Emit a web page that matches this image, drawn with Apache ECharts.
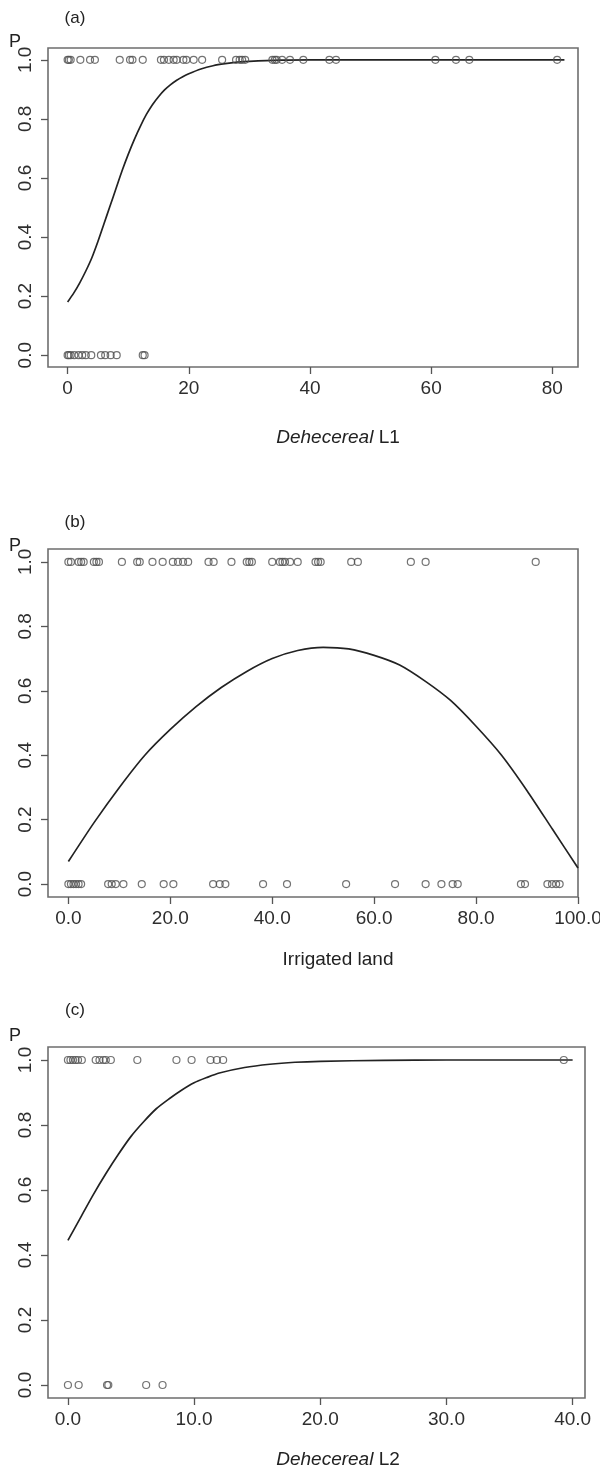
<!DOCTYPE html>
<html>
<head>
<meta charset="utf-8">
<script src="https://cdn.jsdelivr.net/npm/echarts@6/dist/echarts.min.js"></script>
<style>
  html, body { margin: 0; padding: 0; background: #fff; }
  #chart { width: 600px; height: 1473px; }
</style>
</head>
<body>
<div id="chart"></div>
<script>
// panel (a): Dehecereal L1
const aOnes = [0, 0.2, 0.5, 2.1, 3.7, 4.5, 8.6, 10.3, 10.7, 12.4, 15.4, 15.9, 16.7, 17.5, 18.0, 19.1, 19.6, 20.8, 22.2,
  25.5, 27.8, 28.4, 28.8, 29.3, 33.8, 34.2, 34.5, 35.4, 36.7, 38.9, 43.2, 44.3, 60.7, 64.1, 66.3, 80.8];
const aZeros = [0, 0.2, 0.5, 1.1, 1.8, 2.4, 3.0, 3.9, 5.5, 6.2, 7.1, 8.1, 12.4, 12.7];
const aCurveX = [0, 1, 2, 3, 4, 5, 6, 7, 8, 9, 10, 11, 12, 13, 14, 15, 16, 17, 18, 19, 20, 22, 24, 26, 28, 30, 35, 40, 50, 82];
const aCurveP = [0.18, 0.21, 0.245, 0.285, 0.33, 0.385, 0.445, 0.505, 0.565, 0.625, 0.68, 0.73, 0.775, 0.815, 0.848, 0.875, 0.898, 0.916, 0.931, 0.943, 0.953,
  0.969, 0.98, 0.987, 0.992, 0.995, 0.999, 1, 1, 1];

// panel (b): Irrigated land
const bOnes = [0, 0.5, 2, 2.5, 3, 5, 5.5, 6, 10.5, 13.5, 14, 16.5, 18.5, 20.5, 21.5, 22.5, 23.5, 27.5, 28.5, 32,
  35, 35.5, 36, 40, 41.5, 42, 42.5, 43.5, 45, 48.5, 49, 49.5, 55.5, 56.8, 67.2, 70.1, 91.7];
const bZeros = [0, 0.5, 1, 1.5, 2, 2.5, 7.8, 8.5, 9.3, 10.8, 14.4, 18.7, 20.6, 28.4, 29.7, 30.8, 38.2, 42.9, 54.5,
  64.1, 70.1, 73.2, 75.4, 76.4, 88.8, 89.6, 94, 94.9, 95.7, 96.4];
const bCurveX = [0, 5, 10, 15, 20, 25, 30, 35, 40, 45, 50, 55, 60, 65, 70, 75, 80, 85, 90, 95, 100];
const bCurveP = [0.07, 0.19, 0.3, 0.4, 0.48, 0.55, 0.61, 0.66, 0.7, 0.725, 0.735, 0.73, 0.71, 0.68, 0.63, 0.57, 0.49, 0.4, 0.29, 0.17, 0.05];

// panel (c): Dehecereal L2
const cOnes = [0, 0.2, 0.4, 0.6, 0.8, 1.1, 2.2, 2.5, 2.8, 3.0, 3.4, 5.5, 8.6, 9.8, 11.3, 11.8, 12.3, 39.3];
const cZeros = [0, 0.85, 3.1, 3.2, 6.2, 7.5];
const cCurveX = [0, 1, 2, 3, 4, 5, 6, 7, 8, 9, 10, 11, 12, 14, 16, 18, 20, 25, 30, 40];
const cCurveP = [0.445, 0.515, 0.585, 0.65, 0.71, 0.765, 0.81, 0.85, 0.88, 0.907, 0.93, 0.946, 0.96, 0.977, 0.987, 0.993, 0.996, 0.999, 1, 1];

const xTicksA = [0, 20, 40, 60, 80];
const xTicksB = [0, 20, 40, 60, 80, 100];
const xTicksC = [0, 10, 20, 30, 40];
const yTicks = [0, 0.2, 0.4, 0.6, 0.8, 1.0];

const chart = echarts.init(document.getElementById('chart'));

const font = 'Liberation Sans, Arial, Helvetica, sans-serif';
const ink = '#2e2e2e';

function pts(xs, y) {
  return xs.map(v => [v, y]);
}
function pairs(xs, ys) {
  return xs.map((v, i) => [v, ys[i]]);
}

function xAxis(idx, min, max, ticks, digits) {
  return {
    type: 'value', gridIndex: idx, min: min, max: max,
    splitLine: { show: false },
    axisLine: { show: false, onZero: false },
    axisTick: { show: true, inside: false, length: 7, customValues: ticks, lineStyle: { color: '#555', width: 1.3 } },
    axisLabel: {
      customValues: ticks, margin: 12, color: ink, fontSize: 19, fontFamily: font,
      formatter: v => v.toFixed(digits),
    },
  };
}
function yAxis(idx) {
  return {
    type: 'value', gridIndex: idx, min: -0.04, max: 1.04,
    splitLine: { show: false },
    axisLine: { show: false, onZero: false },
    axisTick: { show: true, inside: false, length: 7, customValues: yTicks, lineStyle: { color: '#555', width: 1.3 } },
    axisLabel: {
      customValues: yTicks, rotate: 90, margin: 13, color: ink, fontSize: 19, fontFamily: font,
      formatter: v => v.toFixed(1),
    },
  };
}

const dot = {
  type: 'scatter', symbol: 'circle', symbolSize: 7,
  itemStyle: { color: 'rgba(0,0,0,0)', borderColor: '#505050', borderWidth: 1.2 },
  silent: true, z: 3,
};
const curve = {
  type: 'line', showSymbol: false, smooth: 0.25,
  lineStyle: { color: '#222', width: 1.7 }, silent: true, z: 2,
};

const grids = [
  { left: 48, top: 48, width: 530, height: 319 },
  { left: 48, top: 549, width: 530, height: 348 },
  { left: 48, top: 1047, width: 537, height: 351 },
].map(g => Object.assign({ show: true, borderColor: '#6e6e6e', borderWidth: 1.6, backgroundColor: 'transparent', containLabel: false, outerBoundsMode: 'none' }, g));

function label(x, y, text, size) {
  return {
    type: 'text', x: x, y: y,
    style: { text: text, fill: '#222', font: size + 'px ' + font, textAlign: 'center', textVerticalAlign: 'middle' },
  };
}
function richTitle(x, y, it, rest) {
  return {
    type: 'text', x: x, y: y,
    style: {
      text: '{i|' + it + '}{n| ' + rest + '}',
      textAlign: 'center', textVerticalAlign: 'middle',
      rich: {
        i: { fontStyle: 'italic', fontSize: 19, fontFamily: font, fill: '#222' },
        n: { fontSize: 19, fontFamily: font, fill: '#222' },
      },
    },
  };
}

chart.setOption({
  animation: false,
  grid: grids,
  xAxis: [
    xAxis(0, -3.24, 84.24, xTicksA, 0),
    xAxis(1, -4, 100, xTicksB, 1),
    xAxis(2, -1.58, 40.98, xTicksC, 1),
  ],
  yAxis: [yAxis(0), yAxis(1), yAxis(2)],
  series: [
    Object.assign({}, curve, { xAxisIndex: 0, yAxisIndex: 0, data: pairs(aCurveX, aCurveP) }),
    Object.assign({}, dot, { xAxisIndex: 0, yAxisIndex: 0, data: pts(aOnes, 1) }),
    Object.assign({}, dot, { xAxisIndex: 0, yAxisIndex: 0, data: pts(aZeros, 0) }),
    Object.assign({}, curve, { xAxisIndex: 1, yAxisIndex: 1, data: pairs(bCurveX, bCurveP) }),
    Object.assign({}, dot, { xAxisIndex: 1, yAxisIndex: 1, data: pts(bOnes, 1) }),
    Object.assign({}, dot, { xAxisIndex: 1, yAxisIndex: 1, data: pts(bZeros, 0) }),
    Object.assign({}, curve, { xAxisIndex: 2, yAxisIndex: 2, data: pairs(cCurveX, cCurveP) }),
    Object.assign({}, dot, { xAxisIndex: 2, yAxisIndex: 2, data: pts(cOnes, 1) }),
    Object.assign({}, dot, { xAxisIndex: 2, yAxisIndex: 2, data: pts(cZeros, 0) }),
  ],
  graphic: [
    label(75, 18, '(a)', 17), label(15, 42, 'P', 18),
    richTitle(338, 438, 'Dehecereal', 'L1'),
    label(75, 522, '(b)', 17), label(15, 546, 'P', 18),
    label(338, 960, 'Irrigated land', 19),
    label(75, 1010, '(c)', 17), label(15, 1036, 'P', 18),
    richTitle(338, 1460, 'Dehecereal', 'L2'),
  ],
});
</script>
</body>
</html>
